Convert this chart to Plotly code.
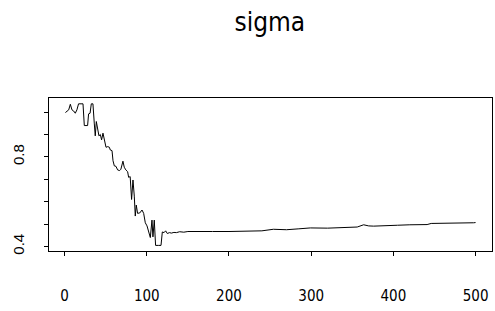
import plotly.graph_objects as go

# Iteration index and sigma values
iteration = [1, 3, 5, 7, 9, 11, 13, 15, 17, 20, 22.4, 24, 28, 29.2, 31, 32.5, 34.5,
             36.1, 37.3, 38.6, 40.2, 41.8, 43.5, 45, 46.7, 48.3, 50.4, 52.5, 54.5,
             55.6, 57.7, 58.9, 60.5, 62.5, 64.5, 66.9, 68.5, 71, 72.6, 74.5, 76.7,
             77.9, 79.8, 81.5, 83.2, 84.8, 86, 87.2, 88.8, 91.5, 94.2, 96.2, 98.2,
             100.3, 102.3, 104.3, 106.3, 107.5, 109.1, 110.7, 114, 117.3, 118.9,
             121, 122.9, 125, 127.5, 130, 133, 136, 140, 145, 150, 160, 170, 180,
             200, 220, 240, 254, 270, 285, 299, 320, 340, 351.6, 356, 363.8, 370,
             376, 390, 405, 420, 436.7, 441, 446, 451, 465, 480, 490, 497.6, 500]
sigma = [0.998, 1.003, 1.010, 1.035, 1.010, 1.005, 0.995, 1.010, 1.037, 1.037, 1.037,
         0.940, 0.940, 0.992, 0.995, 1.037, 1.037,
         0.951, 0.894, 0.958, 0.921, 0.894, 0.900, 0.876, 0.906, 0.873, 0.843, 0.846,
         0.843, 0.831, 0.828, 0.783, 0.760, 0.758, 0.742, 0.739, 0.745, 0.781, 0.754,
         0.742, 0.734, 0.709, 0.712, 0.610, 0.697, 0.625, 0.536, 0.585, 0.548, 0.550,
         0.563, 0.548, 0.506, 0.492, 0.470, 0.440, 0.518, 0.443, 0.518, 0.405, 0.405,
         0.405, 0.465, 0.462, 0.470, 0.458, 0.462, 0.460, 0.463, 0.462, 0.466, 0.464,
         0.467, 0.466, 0.467, 0.467, 0.467, 0.468, 0.470, 0.477, 0.475, 0.479, 0.483,
         0.482, 0.486, 0.488, 0.487, 0.497, 0.492, 0.491, 0.494, 0.495, 0.497, 0.500,
         0.498, 0.503, 0.503, 0.503, 0.504, 0.506, 0.506, 0.507]

x_ticks = [0, 100, 200, 300, 400, 500]
y_ticks = [0.4, 0.5, 0.6, 0.7, 0.8, 0.9, 1.0]
y_tick_labels = ["0.4", "", "", "", "0.8", "", ""]

NARROW = "Liberation Sans Narrow, DejaVu Sans Condensed, Arial Narrow, Liberation Sans"

fig = go.Figure()
fig.add_trace(go.Scatter(x=iteration, y=sigma, mode="lines",
                         line=dict(color="black", width=1), hoverinfo="skip"))

fig.update_layout(
    width=495, height=311,
    margin=dict(l=49, r=3, t=98, b=60, autoexpand=False),
    paper_bgcolor="white", plot_bgcolor="white",
    showlegend=False,
    title=dict(text="sigma", x=0.545, xanchor="center", y=1 - 22 / 311,
               yanchor="middle", yref="container",
               font=dict(family=NARROW, size=26, color="black")),
)
fig.update_xaxes(range=[-18.96, 519.96], tickvals=x_ticks, showgrid=False,
                 zeroline=False, showline=True, linecolor="black", linewidth=1,
                 mirror=True, ticks="outside", ticklen=4, tickcolor="black",
                 ticklabelstandoff=27, automargin=False,
                 tickfont=dict(family=NARROW, size=15, color="black"))
fig.update_yaxes(range=[0.380, 1.063], tickvals=y_ticks, ticktext=y_tick_labels,
                 showgrid=False, zeroline=False, showline=True, linecolor="black",
                 linewidth=1, mirror=True, ticks="outside", ticklen=4,
                 tickcolor="black", tickangle=-90, ticklabelstandoff=14,
                 automargin=False,
                 tickfont=dict(family="Liberation Sans, Arial", size=15, color="black"))

fig.write_html("out.html", config={"displayModeBar": False, "staticPlot": True},
               post_script="document.body.style.margin='0';document.body.style.overflow='hidden';")
